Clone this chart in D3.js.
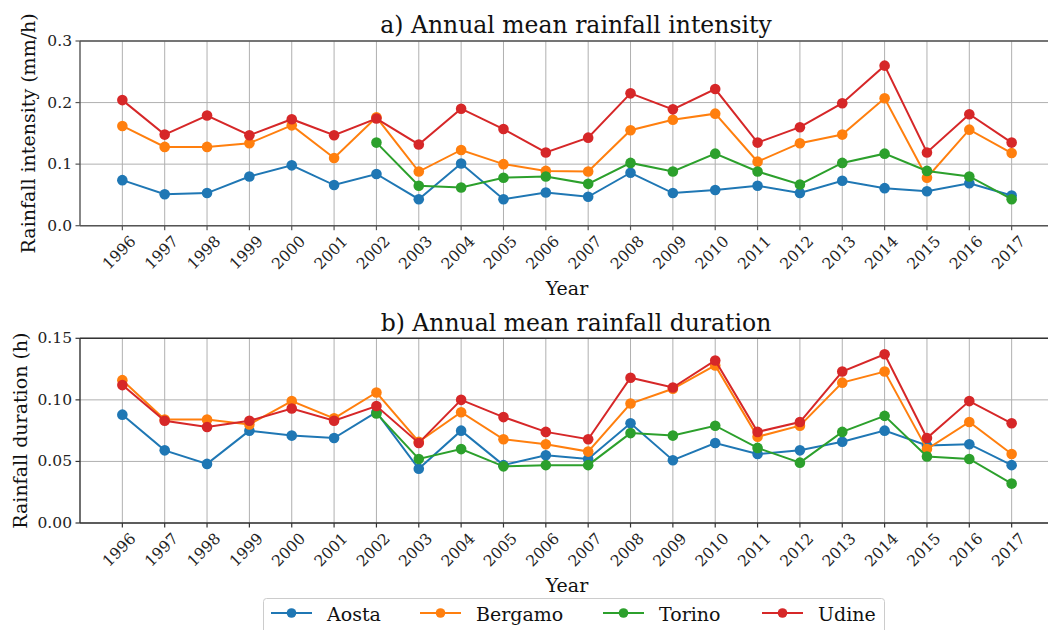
<!DOCTYPE html>
<html>
<head>
<meta charset="utf-8">
<script src="https://cdn.jsdelivr.net/npm/d3@7"></script>
<style>
  html, body { margin: 0; padding: 0; background: #fff; }
  svg { display: block; font-family: "DejaVu Serif", serif; }
</style>
</head>
<body>
<svg id="chart" width="1048" height="630"></svg>
<script>
const years = [1996,1997,1998,1999,2000,2001,2002,2003,2004,2005,2006,2007,2008,2009,2010,2011,2012,2013,2014,2015,2016,2017];
const stations = ["Aosta", "Bergamo", "Torino", "Udine"];
const colors = ["#1f77b4", "#ff7f0e", "#2ca02c", "#d62728"];

// a) intensity (mm/h)
const intensityAosta   = [0.074,0.051,0.053,0.080,0.098,0.066,0.084,0.043,0.101,0.043,0.054,0.047,0.086,0.053,0.058,0.065,0.053,0.073,0.061,0.056,0.069,0.049];
const intensityBergamo = [0.162,0.128,0.128,0.134,0.163,0.110,0.176,0.088,0.123,0.100,0.089,0.088,0.155,0.172,0.182,0.104,0.134,0.148,0.207,0.078,0.156,0.118];
const intensityTorino  = [null,null,null,null,null,null,0.135,0.065,0.062,0.078,0.080,0.068,0.102,0.088,0.117,0.088,0.067,0.102,0.117,0.089,0.080,0.043];
const intensityUdine   = [0.204,0.148,0.179,0.147,0.173,0.147,0.174,0.132,0.190,0.157,0.119,0.143,0.215,0.189,0.222,0.135,0.160,0.199,0.260,0.119,0.181,0.135];

// b) duration (h)
const durationAosta   = [0.088,0.059,0.048,0.075,0.071,0.069,0.090,0.044,0.075,0.047,0.055,0.052,0.081,0.051,0.065,0.056,0.059,0.066,0.075,0.063,0.064,0.047];
const durationBergamo = [0.116,0.084,0.084,0.080,0.099,0.085,0.106,0.066,0.090,0.068,0.064,0.058,0.097,0.109,0.128,0.070,0.079,0.114,0.123,0.060,0.082,0.056];
const durationTorino  = [null,null,null,null,null,null,0.089,0.052,0.060,0.046,0.047,0.047,0.073,0.071,0.079,0.061,0.049,0.074,0.087,0.054,0.052,0.032];
const durationUdine   = [0.112,0.083,0.078,0.083,0.093,0.083,0.095,0.065,0.100,0.086,0.074,0.068,0.118,0.110,0.132,0.074,0.082,0.123,0.137,0.069,0.099,0.081];

const topTicks = [0.0, 0.1, 0.2, 0.3];
const bottomTicks = [0.00, 0.05, 0.10, 0.15];

const svg = d3.select("#chart");
const L = 80, R = 1054;
const x = d3.scaleLinear().domain([1995, 2018]).range([L, R]);

function panel(cfg) {
  const g = svg.append("g");
  const y = d3.scaleLinear().domain(cfg.domain).range([cfg.bottom, cfg.top]);

  // grid
  g.append("g").selectAll("line.vg").data(years).join("line")
    .attr("x1", d => x(d)).attr("x2", d => x(d))
    .attr("y1", cfg.top).attr("y2", cfg.bottom)
    .attr("stroke", "#b0b0b0").attr("stroke-width", 1);
  g.append("g").selectAll("line.hg").data(cfg.ticks).join("line")
    .attr("x1", L).attr("x2", R)
    .attr("y1", d => y(d)).attr("y2", d => y(d))
    .attr("stroke", "#b0b0b0").attr("stroke-width", 1);

  // series
  cfg.series.forEach((vals, i) => {
    const pts = years.map((yr, k) => ({yr, v: vals[k]})).filter(p => p.v != null);
    const line = d3.line().x(p => x(p.yr)).y(p => y(p.v));
    g.append("path").datum(pts).attr("d", line)
      .attr("fill", "none").attr("stroke", colors[i]).attr("stroke-width", 2);
    g.append("g").selectAll("circle").data(pts).join("circle")
      .attr("cx", p => x(p.yr)).attr("cy", p => y(p.v)).attr("r", 5.3)
      .attr("fill", colors[i]);
  });

  // spines
  const sc = cfg.spine;
  g.append("line").attr("x1", L).attr("x2", R).attr("y1", cfg.top).attr("y2", cfg.top)
    .attr("stroke", sc).attr("stroke-width", 1.4);
  g.append("line").attr("x1", L).attr("x2", R).attr("y1", cfg.bottom).attr("y2", cfg.bottom)
    .attr("stroke", sc).attr("stroke-width", 1.4);
  g.append("line").attr("x1", L).attr("x2", L).attr("y1", cfg.top).attr("y2", cfg.bottom)
    .attr("stroke", sc).attr("stroke-width", 1.4);

  // x ticks + labels
  g.append("g").selectAll("line").data(years).join("line")
    .attr("x1", d => x(d)).attr("x2", d => x(d))
    .attr("y1", cfg.bottom).attr("y2", cfg.bottom + 4.5)
    .attr("stroke", sc).attr("stroke-width", 1.2);
  g.append("g").selectAll("text").data(years).join("text")
    .attr("transform", d => `translate(${x(d) - 3},${cfg.bottom + 27}) rotate(-45)`)
    .attr("text-anchor", "middle").attr("dominant-baseline", "central")
    .attr("font-size", 15.5).attr("fill", "#222").text(d => d);

  // y ticks + labels
  g.append("g").selectAll("line").data(cfg.ticks).join("line")
    .attr("x1", L - 4.5).attr("x2", L)
    .attr("y1", d => y(d)).attr("y2", d => y(d))
    .attr("stroke", sc).attr("stroke-width", 1.2);
  g.append("g").selectAll("text").data(cfg.ticks).join("text")
    .attr("x", L - 8).attr("y", d => y(d))
    .attr("text-anchor", "end").attr("dominant-baseline", "central")
    .attr("font-size", 15.5).attr("fill", "#222").text(d => d.toFixed(cfg.dec));

  // title
  g.append("text").attr("x", cfg.titleX).attr("y", cfg.titleY)
    .attr("text-anchor", "middle").attr("font-size", 23.5).attr("fill", "#111")
    .text(cfg.title);
  // x label
  g.append("text").attr("x", (L + R) / 2).attr("y", cfg.xlabelY)
    .attr("text-anchor", "middle").attr("font-size", 19).attr("fill", "#111")
    .text("Year");
  // y label
  g.append("text")
    .attr("transform", `translate(${cfg.ylabelX},${(cfg.top + cfg.bottom) / 2}) rotate(-90)`)
    .attr("text-anchor", "middle").attr("font-size", 19).attr("fill", "#111")
    .text(cfg.ylabel);
}

panel({
  domain: [0, 0.3], top: 41, bottom: 225.7, ticks: topTicks, dec: 1,
  series: [intensityAosta, intensityBergamo, intensityTorino, intensityUdine],
  spine: "#555", title: "a) Annual mean rainfall intensity", titleX: 576, titleY: 32.5,
  xlabelY: 295, ylabel: "Rainfall intensity (mm/h)", ylabelX: 34.5
});
panel({
  domain: [0, 0.15], top: 338.3, bottom: 523, ticks: bottomTicks, dec: 2,
  series: [durationAosta, durationBergamo, durationTorino, durationUdine],
  spine: "#333", title: "b) Annual mean rainfall duration", titleX: 576, titleY: 330.5,
  xlabelY: 591.5, ylabel: "Rainfall duration (h)", ylabelX: 26.5
});

// legend
const lg = svg.append("g");
lg.append("rect").attr("x", 263.5).attr("y", 598.5).attr("width", 621).attr("height", 50)
  .attr("rx", 3).attr("fill", "#fff").attr("fill-opacity", 0.8)
  .attr("stroke", "#cccccc").attr("stroke-width", 1);
const legendX = [271, 420, 603, 762];
stations.forEach((s, i) => {
  const x0 = legendX[i];
  lg.append("line").attr("x1", x0).attr("x2", x0 + 41).attr("y1", 613).attr("y2", 613)
    .attr("stroke", colors[i]).attr("stroke-width", 2);
  lg.append("circle").attr("cx", x0 + 20.5).attr("cy", 613).attr("r", 4.8).attr("fill", colors[i]);
  lg.append("text").attr("x", x0 + 56).attr("y", 620.5)
    .attr("font-size", 19).attr("fill", "#111").text(s);
});
</script>
</body>
</html>
